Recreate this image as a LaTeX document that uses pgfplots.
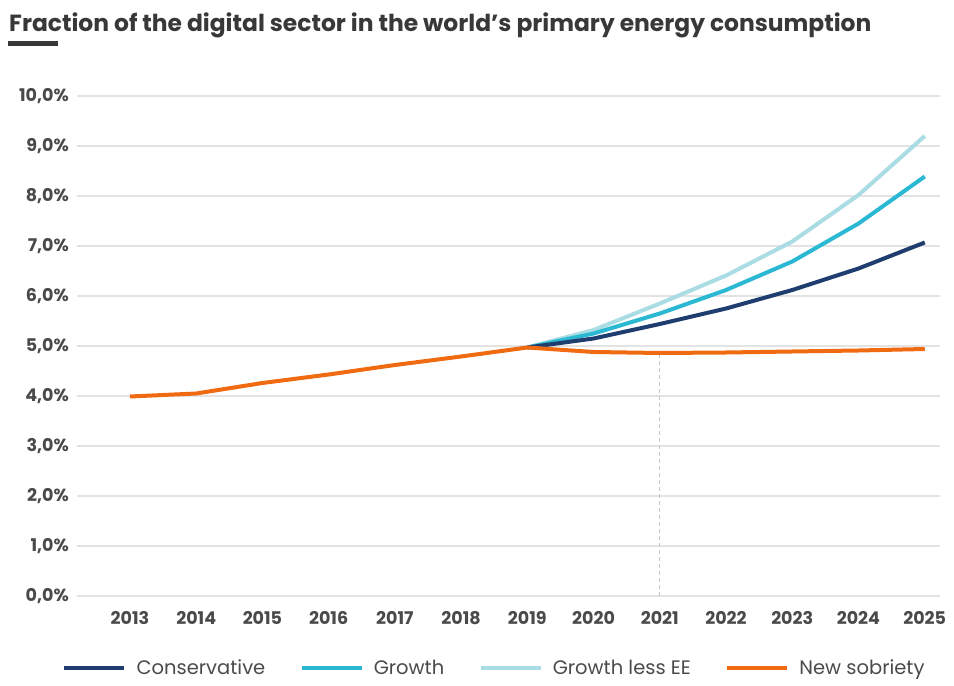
\documentclass[border=0pt]{standalone}
\usepackage{fontspec}
\setmainfont{Fira Sans}
\newfontfamily\titlefont{Poppins}
\usepackage{pgfplots}
\pgfplotsset{compat=1.18}
\definecolor{cCons}{HTML}{1F3D6E}
\definecolor{cGrow}{HTML}{2BB8D3}
\definecolor{cGlee}{HTML}{A9DCE3}
\definecolor{cSob}{HTML}{F06A12}
\definecolor{txt}{HTML}{4A4A4A}
\definecolor{ttl}{HTML}{383838}
\definecolor{gridc}{HTML}{E3E3E3}
\begin{document}
\begin{tikzpicture}
\useasboundingbox (0pt,0pt) rectangle (954pt,686pt);
\node[anchor=base west, inner sep=0pt, text=ttl] at (9pt,654pt) {\titlefont\fontsize{23.4}{26}\selectfont\bfseries Fraction of the digital sector in the world’s primary energy consumption};
\fill[ttl] (8pt,640pt) rectangle (58pt,645pt);
\begin{axis}[
  at={(77pt,90pt)}, anchor=south west,
  scale only axis, width=863pt, height=500pt,
  xmin=2012.2, xmax=2025.23, ymin=0, ymax=10,
  axis line style={draw=none}, major tick style={draw=none},
  ymajorgrids, grid style={color=gridc, line width=1.3pt},
  xtick={2013,...,2025},
  xticklabel style={anchor=north, inner sep=0pt, yshift=-15pt},
  xticklabel={\pgfmathprintnumber[1000 sep={},fixed,precision=0]{\tick}},
  ytick={0,1,...,10},
  yticklabels={0{,}0\%,1{,}0\%,2{,}0\%,3{,}0\%,4{,}0\%,5{,}0\%,6{,}0\%,7{,}0\%,8{,}0\%,9{,}0\%,10{,}0\%},
  yticklabel style={anchor=east, inner sep=0pt, xshift=-8pt},
  tick label style={font=\titlefont\fontsize{17.5}{20}\selectfont\bfseries, text=txt},
  /pgf/number format/assume math mode=true,
  legend columns=4,
  legend style={at={(-0.0174,-0.144)}, anchor=west, draw=none, fill=none, inner sep=0pt,
    font=\titlefont\fontsize{19.5}{22}\selectfont, text=txt,
    nodes={inner xsep=10pt},
    /tikz/every even column/.append style={column sep=24pt}},
  legend image code/.code={\draw[#1, line width=4.5pt] (0pt,0pt) -- (60pt,0pt);},
  legend cell align=left,
]
\addlegendimage{color=cCons}\addlegendentry{Conservative}
\addlegendimage{color=cGrow}\addlegendentry{Growth}
\addlegendimage{color=cGlee}\addlegendentry{Growth less EE}
\addlegendimage{color=cSob}\addlegendentry{New sobriety}
\addplot[forget plot, color=gray!45, line width=1.2pt, dash pattern=on 4pt off 3pt] coordinates {(2021,0) (2021,4.9)};
\addplot[forget plot, color=cGlee, line width=4pt] coordinates {(2019,4.97) (2020,5.32) (2021,5.85) (2022,6.41) (2023,7.09) (2024,8.02) (2025,9.2)};
\addplot[forget plot, color=cGrow, line width=4pt] coordinates {(2019,4.97) (2020,5.25) (2021,5.65) (2022,6.12) (2023,6.69) (2024,7.45) (2025,8.39)};
\addplot[forget plot, color=cCons, line width=4pt] coordinates {(2019,4.97) (2020,5.15) (2021,5.44) (2022,5.75) (2023,6.12) (2024,6.55) (2025,7.07)};
\addplot[forget plot, color=cSob, line width=4pt] coordinates {(2013,3.99) (2014,4.05) (2015,4.26) (2016,4.43) (2017,4.62) (2018,4.79) (2019,4.97) (2020,4.88) (2021,4.86) (2022,4.87) (2023,4.89) (2024,4.91) (2025,4.94)};
\end{axis}
\end{tikzpicture}
\end{document}
